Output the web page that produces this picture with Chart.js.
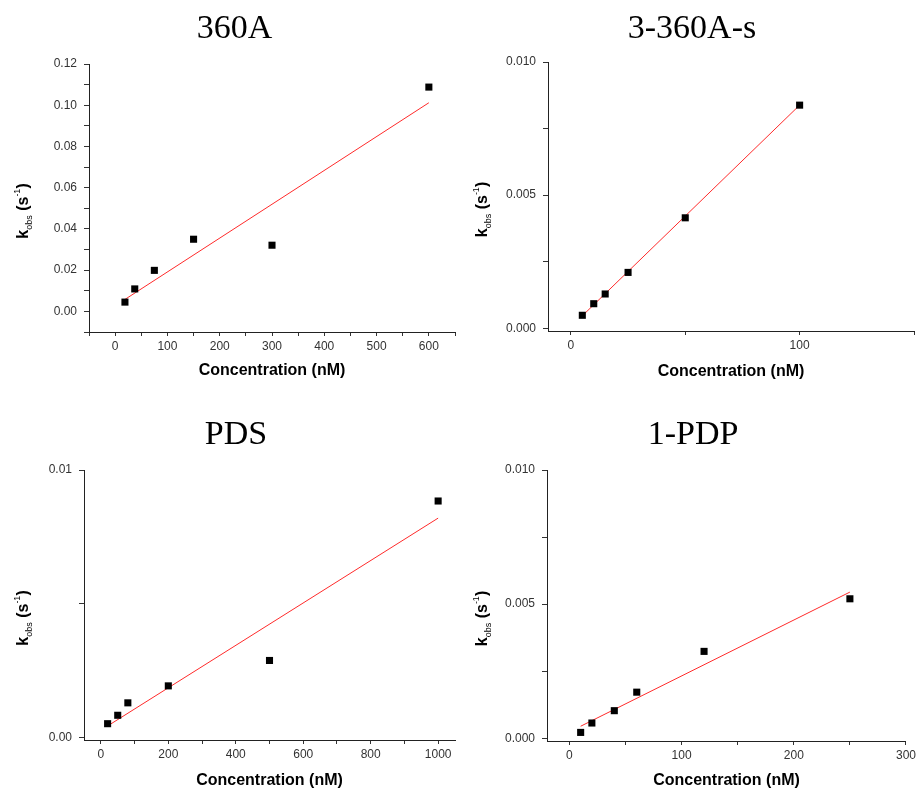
<!DOCTYPE html>
<html>
<head>
<meta charset="utf-8">
<title>kobs vs concentration</title>
<script src="https://cdn.jsdelivr.net/npm/chart.js@4.4.1/dist/chart.umd.min.js"></script>
<style>
	html, body { margin: 0; padding: 0; background: #fff; }
	#wrap { position: relative; width: 919px; height: 790px; overflow: hidden; }
	#wrap canvas { position: absolute; }
</style>
</head>
<body>
<div id="wrap">
	<canvas id="c360A" width="460" height="395" style="left:0px;top:0px"></canvas>
	<canvas id="c3360As" width="459" height="395" style="left:460px;top:0px"></canvas>
	<canvas id="cPDS" width="460" height="384" style="left:0px;top:406px"></canvas>
	<canvas id="c1PDP" width="459" height="384" style="left:460px;top:406px"></canvas>
</div>
<script>
// ---- values ----
// 360A
var conc360A = [18.75, 37.5, 75, 150, 300, 600];
var kobs360A = [0.0045, 0.0109, 0.0199, 0.0350, 0.0321, 0.1088];
var fitX360A = [18.75, 600];
var fitY360A = [0.0058, 0.1012];
var xLabels360A = [0, 100, 200, 300, 400, 500, 600];
var yLabels360A = [0.00, 0.02, 0.04, 0.06, 0.08, 0.10, 0.12];

// 3-360A-s
var conc3360As = [5, 10, 15, 25, 50, 100];
var kobs3360As = [0.00049, 0.000925, 0.00129, 0.0021, 0.00415, 0.00838];
var fitX3360As = [5, 100];
var fitY3360As = [0.00047, 0.00838];
var xLabels3360As = [0, 100];
var yLabels3360As = [0.000, 0.005, 0.010];

// PDS
var concPDS = [20, 50, 80, 200, 500, 1000];
var kobsPDS = [0.00051, 0.000825, 0.00129, 0.001925, 0.002875, 0.00884];
var fitXPDS = [20, 1000];
var fitYPDS = [0.000425, 0.0082];
var xLabelsPDS = [0, 200, 400, 600, 800, 1000];
var yLabelsPDS = [0.00, 0.01];

// 1-PDP
var conc1PDP = [10, 20, 40, 60, 120, 250];
var kobs1PDP = [0.00022, 0.00057, 0.00103, 0.00172, 0.00324, 0.0052];
var fitX1PDP = [10, 250];
var fitY1PDP = [0.00045, 0.00545];
var xLabels1PDP = [0, 100, 200, 300];
var yLabels1PDP = [0.000, 0.005, 0.010];

Chart.defaults.font.family = '"Liberation Sans", Arial, sans-serif';

// Panel layout (chart area in canvas pixels)
var PANELS = [
	{ id: 'c360A', title: '360A', x: conc360A, y: kobs360A, fx: fitX360A, fy: fitY360A,
		xMin: -50, xMax: 650, xStep: 50, xLabels: xLabels360A, xDec: 0,
		yMin: -0.01, yMax: 0.12, yStep: 0.01, yLabels: yLabels360A, yDec: 2,
		area: { left: 89, right: 457, top: 64, bottom: 332 }, padLeft: 12, xTitlePad: 15, yTitleGap: 61 },
	{ id: 'c3360As', title: '3-360A-s', x: conc3360As, y: kobs3360As, fx: fitX3360As, fy: fitY3360As,
		xMin: -10, xMax: 150, xStep: 50, xLabels: xLabels3360As, xDec: 0,
		yMin: -0.0001, yMax: 0.010, yStep: 0.0025, yLabels: yLabels3360As, yDec: 3,
		area: { left: 88, right: 455, top: 62, bottom: 331 }, padLeft: 9, xTitlePad: 14, yTitleGap: 61 },
	{ id: 'cPDS', title: 'PDS', x: concPDS, y: kobsPDS, fx: fitXPDS, fy: fitYPDS,
		xMin: -50, xMax: 1050, xStep: 100, xLabels: xLabelsPDS, xDec: 0,
		yMin: -0.0001, yMax: 0.01, yStep: 0.005, yLabels: yLabelsPDS, yDec: 2,
		area: { left: 84, right: 459, top: 64, bottom: 334 }, padLeft: 13, xTitlePad: 0, yTitleGap: 56 },
	{ id: 'c1PDP', title: '1-PDP', x: conc1PDP, y: kobs1PDP, fx: fitX1PDP, fy: fitY1PDP,
		xMin: -20, xMax: 300, xStep: 50, xLabels: xLabels1PDP, xDec: 0,
		yMin: -0.0001, yMax: 0.010, yStep: 0.0025, yLabels: yLabels1PDP, yDec: 3,
		area: { left: 87, right: 446, top: 64, bottom: 335 }, padLeft: 20, xTitlePad: 0, yTitleGap: 60 }
];

// tick marks every step inside [min, max]
function stepTicks(min, max, step) {
	var out = [];
	var n0 = Math.ceil(min / step - 1e-9);
	for (var n = n0; n * step <= max + step * 1e-6; n++) {
		out.push({ value: +(n * step).toFixed(8) });
	}
	return out;
}

// only label the major values
function labeler(labels, dec) {
	return function (value) {
		for (var i = 0; i < labels.length; i++) {
			if (Math.abs(labels[i] - value) < 1e-9) return value.toFixed(dec);
		}
		return '';
	};
}

// k_obs (s^-1) title with sub/superscript
var kobsTitle = {
	id: 'kobsTitle',
	afterDraw: function (chart, args, opts) {
		var ctx = chart.ctx, a = chart.chartArea;
		var fam = '"Liberation Sans", Arial, sans-serif';
		var parts = [
			{ t: 'k', f: 'bold 16px ' + fam, dy: 0 },
			{ t: 'obs', f: '9px ' + fam, dy: 4 },
			{ t: ' (s', f: 'bold 16px ' + fam, dy: 0 },
			{ t: '-1', f: '9px ' + fam, dy: -8 },
			{ t: ')', f: 'bold 16px ' + fam, dy: 0 }
		];
		var total = 0;
		parts.forEach(function (p) { ctx.font = p.f; p.w = ctx.measureText(p.t).width; total += p.w; });
		ctx.save();
		ctx.translate(a.left - opts.gap, (a.top + a.bottom) / 2 + 13);
		ctx.rotate(-Math.PI / 2);
		ctx.fillStyle = '#000';
		ctx.textBaseline = 'alphabetic';
		ctx.textAlign = 'left';
		var x = -total / 2;
		parts.forEach(function (p) {
			ctx.font = p.f;
			ctx.fillText(p.t, x, p.dy);
			x += p.w;
		});
		ctx.restore();
	}
};

function buildPanel(p) {
	var canvas = document.getElementById(p.id);
	var w = canvas.width, h = canvas.height;
	var titleLH = 34 * 1.2;
	var points = p.x.map(function (v, i) { return { x: v, y: p.y[i] }; });
	var fit = p.fx.map(function (v, i) { return { x: v, y: p.fy[i] }; });

	return new Chart(canvas, {
		type: 'scatter',
		data: {
			datasets: [
				{
					label: 'kobs',
					data: points,
					pointStyle: 'rect',
					pointRadius: 5,
					pointBorderWidth: 0,
					pointBackgroundColor: '#000',
					backgroundColor: '#000'
				},
				{
					label: 'fit',
					data: fit,
					showLine: true,
					pointRadius: 0,
					borderColor: '#ff2a2a',
					borderWidth: 1,
					fill: false
				}
			]
		},
		options: {
			responsive: false,
			animation: false,
			events: [],
			layout: { padding: { left: p.padLeft, right: w - p.area.right, top: 0, bottom: 0 } },
			plugins: {
				legend: { display: false },
				tooltip: { enabled: false },
				title: {
					display: true,
					text: p.title,
					color: '#000',
					font: { family: '"Liberation Serif", "Times New Roman", serif', size: 34, weight: 'normal' },
					padding: { top: 9, bottom: p.area.top - 9 - titleLH }
				},
				kobsTitle: { gap: p.yTitleGap }
			},
			scales: {
				x: {
					type: 'linear',
					min: p.xMin,
					max: p.xMax,
					afterBuildTicks: function (s) { s.ticks = stepTicks(p.xMin, p.xMax, p.xStep); },
					afterFit: function (s) { s.height = h - p.area.bottom; },
					ticks: { autoSkip: false, maxRotation: 0, padding: 3, color: '#333', font: { size: 12 },
						callback: labeler(p.xLabels, p.xDec) },
					grid: { drawOnChartArea: false, drawTicks: true, tickLength: 4, tickColor: '#333' },
					border: { display: true, color: '#222', width: 1 },
					title: { display: true, text: 'Concentration (nM)', color: '#000',
						font: { size: 16, weight: 'bold' }, padding: { top: 0, bottom: p.xTitlePad } }
				},
				y: {
					type: 'linear',
					min: p.yMin,
					max: p.yMax,
					afterBuildTicks: function (s) { s.ticks = stepTicks(p.yMin, p.yMax, p.yStep); },
					afterFit: function (s) { s.width = p.area.left - p.padLeft; },
					ticks: { autoSkip: false, padding: 7, color: '#333', font: { size: 12 },
						callback: labeler(p.yLabels, p.yDec) },
					grid: { drawOnChartArea: false, drawTicks: true, tickLength: 5, tickColor: '#333' },
					border: { display: true, color: '#222', width: 1 }
				}
			}
		},
		plugins: [kobsTitle]
	});
}

PANELS.forEach(buildPanel);
</script>
</body>
</html>
